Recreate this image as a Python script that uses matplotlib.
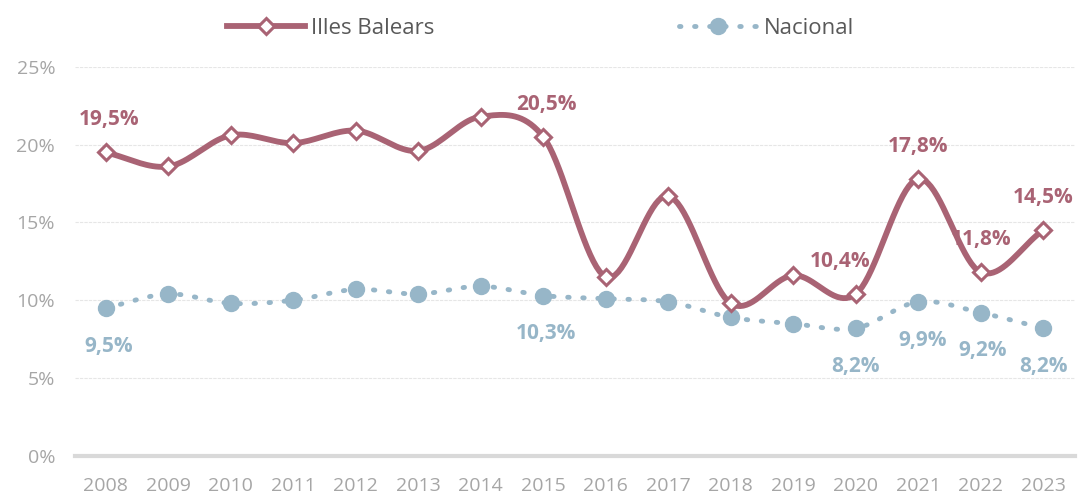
import numpy as np
import matplotlib.pyplot as plt
from matplotlib.ticker import FuncFormatter, MultipleLocator

years = ['2008', '2009', '2010', '2011', '2012', '2013', '2014', '2015',
         '2016', '2017', '2018', '2019', '2020', '2021', '2022', '2023']
balears = [19.5, 18.6, 20.6, 20.1, 20.9, 19.6, 21.8, 20.5,
           11.5, 16.7, 9.8, 11.6, 10.4, 17.8, 11.8, 14.5]
nacional = [9.5, 10.4, 9.8, 10.0, 10.7, 10.4, 10.9, 10.3,
            10.1, 9.9, 8.9, 8.5, 8.2, 9.9, 9.2, 8.2]

# which points get a value label
balears_labels = [0, 7, 12, 13, 14, 15]
nacional_labels = [0, 7, 12, 13, 14, 15]

c_bal = '#A96374'
c_nac = '#97B6C8'
grey = '#A6A6A6'

plt.rcParams['font.family'] = ['Open Sans', 'DejaVu Sans']


def smooth(x, y, n=20):
    # catmull-rom through the points, like a smoothed office line
    x = np.asarray(x, float)
    y = np.asarray(y, float)
    px = np.concatenate([[2 * x[0] - x[1]], x, [2 * x[-1] - x[-2]]])
    py = np.concatenate([[2 * y[0] - y[1]], y, [2 * y[-1] - y[-2]]])
    xs, ys = [], []
    t = np.linspace(0, 1, n, endpoint=False)
    for i in range(1, len(px) - 2):
        for arr, out in ((px, xs), (py, ys)):
            p0, p1, p2, p3 = arr[i - 1], arr[i], arr[i + 1], arr[i + 2]
            out.extend(0.5 * ((2 * p1) + (-p0 + p2) * t
                              + (2 * p0 - 5 * p1 + 4 * p2 - p3) * t ** 2
                              + (-p0 + 3 * p1 - 3 * p2 + p3) * t ** 3))
    xs.append(x[-1])
    ys.append(y[-1])
    return np.array(xs), np.array(ys)


fig = plt.figure(figsize=(10.81, 4.95), dpi=100)
ax = fig.add_axes([0.069, 0.079, 0.925, 0.786])

xi = np.arange(len(years))

sx, sy = smooth(xi, nacional)
ax.plot(sx, sy, color=c_nac, lw=3.5, linestyle=(0, (0.3, 2.8)),
        dash_capstyle='round', zorder=2)
ax.plot(xi, nacional, 'o', color=c_nac, ms=11.5, zorder=3)

sx, sy = smooth(xi, balears)
ax.plot(sx, sy, color=c_bal, lw=4.2, solid_capstyle='round', zorder=4)
ax.plot(xi, balears, 'D', color=c_bal, mfc='white', mew=2.2, ms=8.5, zorder=5)

def pct(v):
    return f'{v:.1f}%'.replace('.', ',')

bal_dx = {0: 0.05, 7: 0.05, 12: -0.25, 13: 0, 14: 0, 15: 0}
nac_dx = {0: 0.05, 7: 0.05, 12: 0, 13: 0.07, 14: 0.03, 15: 0}
for i in balears_labels:
    ax.annotate(pct(balears[i]), (xi[i] + bal_dx[i], balears[i]), xytext=(0, 16),
                textcoords='offset points', ha='center', va='bottom',
                color=c_bal, fontsize=15, fontweight='bold')
for i in nacional_labels:
    ax.annotate(pct(nacional[i]), (xi[i] + nac_dx[i], nacional[i]), xytext=(0, -20),
                textcoords='offset points', ha='center', va='top',
                color=c_nac, fontsize=15, fontweight='bold')

ax.set_xlim(-0.5, 15.5)
ax.set_ylim(0, 25)
ax.set_xticks(xi)
ax.set_xticklabels(years)
ax.yaxis.set_major_locator(MultipleLocator(5))
ax.yaxis.set_major_formatter(FuncFormatter(lambda v, p: f'{v:.0f}%'))
ax.tick_params(axis='both', length=0, labelsize=14, colors=grey)
ax.tick_params(axis='x', pad=15)
ax.tick_params(axis='y', pad=14)
ax.grid(axis='y', color='#E6E6E6', lw=0.8, linestyle=(0, (3, 1)))
for s in ['top', 'right', 'left']:
    ax.spines[s].set_visible(False)
ax.spines['bottom'].set_color('#D9D9D9')
ax.spines['bottom'].set_linewidth(3)

h1, = ax.plot([], [], color=c_bal, lw=4.2, marker='D', mfc='white',
              mew=2.2, ms=8.5, label='Illes Balears')
h2, = ax.plot([], [], color=c_nac, lw=3.5, linestyle=(0, (0.3, 2.8)),
              dash_capstyle='round', marker='o', ms=11.5, label='Nacional')
fig.legend(handles=[h1, h2], loc='upper center', bbox_to_anchor=(0.5, 1.005),
           ncol=2, frameon=False, fontsize=16, columnspacing=11,
           handlelength=3.5, handletextpad=0.3, labelcolor='#595959')

fig.savefig('out.png', dpi=100)
